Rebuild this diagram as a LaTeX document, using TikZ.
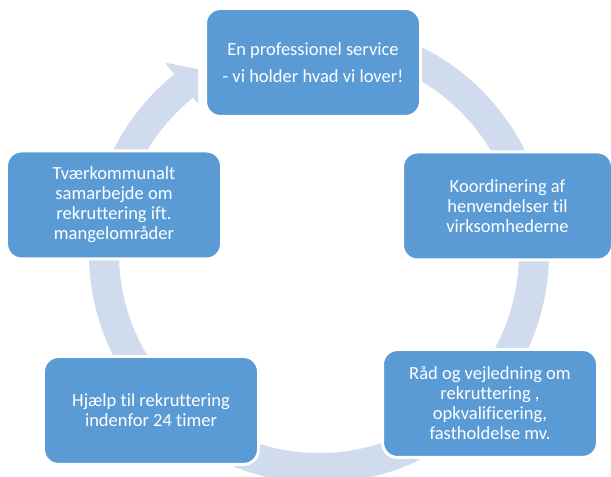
\documentclass[tikz,border=0pt]{standalone}
\usepackage{fontspec}
\setmainfont{Carlito}[Ligatures=NoCommon]
\definecolor{boxblue}{RGB}{91,155,213}
\definecolor{ringblue}{RGB}{208,219,238}

\begin{document}
\begin{tikzpicture}[
    x=1bp, y=1bp,
    stage/.style={draw=white, line width=3bp, fill=boxblue, rounded corners=15bp,
                  minimum width=215bp, minimum height=108bp, inner sep=0pt,
                  font=\fontsize{18.5bp}{20bp}\selectfont, align=center, text=white}
  ]
  \useasboundingbox (0,0) rectangle (611,477);

  % ring, clockwise, head ends left of the top box
  \begin{scope}
    \clip (0,0) rectangle (198,477) (198,0) rectangle (611,350) (206,350) rectangle (611,477);
    \fill[ringblue, shift={(319,224)}]
      (70:230) arc[start angle=70, end angle=-231, radius=230]
      -- (129:245) -- (122:215) -- (129:185) -- (129:200)
      arc[start angle=-231, end angle=70, radius=200] -- cycle;
  \end{scope}

  \node[stage] (svc) at (313,414.5) {En professionel service\\[7bp]- vi holder hvad vi lover!};
  \node[stage, minimum width=210bp] (koord) at (507.5,271) {Koordinering af\\henvendelser til\\virksomhederne};
  \node[stage] (raad) at (490,73.5) {Råd og vejledning om\\rekruttering ,\\opkvalificering,\\fastholdelse mv.};
  \node[stage] (hjaelp) at (151,66.5) {Hjælp til rekruttering\\indenfor 24 timer};
  \node[stage] (tvaer) at (114,272) {Tværkommunalt\\samarbejde om\\rekruttering ift.\\mangelområder};
\end{tikzpicture}
\end{document}
